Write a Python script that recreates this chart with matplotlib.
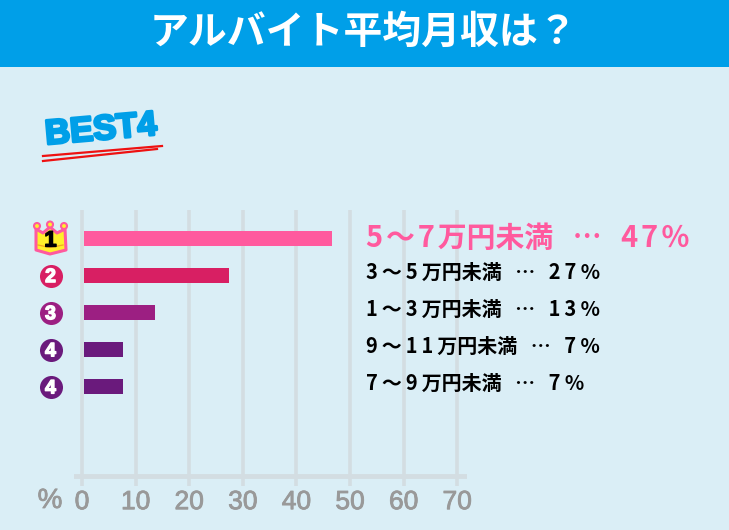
import matplotlib
matplotlib.use("Agg")
import matplotlib.pyplot as plt
import matplotlib.patheffects as pe
from matplotlib.patches import Polygon, Circle, Rectangle

plt.rcParams['font.family'] = ['Noto Sans CJK JP', 'DejaVu Sans']

# data
title = "アルバイト平均月収は？"
# hair spaces after the digits, the reference sets its numerals wide
categories = ["5\u200a～\u200a7\u200a万円未満", "3\u200a～\u200a5\u200a万円未満", "1\u200a～\u200a3\u200a万円未満",
              "9\u200a～\u200a1\u200a1\u200a万円未満", "7\u200a～\u200a9\u200a万円未満"]
percents = ["4\u200a7\u200a％", "2\u200a7\u200a％", "1\u200a3\u200a％", "7\u200a％", "7\u200a％"]
bar_values = [46.7, 27.5, 13.6, 7.7, 7.7]
ranks = ["1", "2", "3", "4", "4"]
xticks = [0, 10, 20, 30, 40, 50, 60, 70]
bar_colors = ["#ff5a9e", "#d81f63", "#9c1f82", "#6a1a7c", "#6a1a7c"]

W, H = 729, 530
BG = "#daeef6"
BLUE = "#009fe8"
GRID = "#d3dde2"
GRAY = "#999999"
LATIN = ["Liberation Sans", "DejaVu Sans"]

fig = plt.figure(figsize=(W / 100, H / 100), dpi=100, facecolor=BG)

# chart axes, placed in pixels
left, right, top, bottom = 74, 467, 210, 486
ax = fig.add_axes([left / W, 1 - bottom / H, (right - left) / W, (bottom - top) / H])
ax.set_facecolor("none")
px_per_unit = 5.36
ax.set_xlim(-8 / px_per_unit, (right - 82) / px_per_unit)
row = 37.1
ax.set_ylim((bottom - 238.5) / row, (top - 238.5) / row)
for s in ax.spines.values():
    s.set_visible(False)
ax.set_yticks([])
ax.set_xticks(xticks)
ax.grid(axis="x", color=GRID, lw=2.6)
ax.set_axisbelow(True)
ax.tick_params(axis="x", length=0, pad=3, labelcolor=GRAY)
for lab in ax.get_xticklabels():
    lab.set_fontfamily(LATIN)
    lab.set_fontsize(19)
    lab.set_path_effects([pe.withStroke(linewidth=0.6, foreground=GRAY)])
ax.axhline((476 - 238.5) / row, color=GRID, lw=3.5, zorder=1)

# bars start just right of the zero line
offset = 0.4
ypos = list(range(len(bar_values)))
ax.barh(ypos, [v - offset for v in bar_values], left=offset, height=15 / row,
        color=bar_colors, zorder=3)

# labels
label_x = (366 - 82) / px_per_unit
for i, (c, p) in enumerate(zip(categories, percents)):
    if i == 0:
        ax.text(label_x, i, f"{c}   …   {p}", color="#ff5a9e", fontsize=20.8, fontweight="bold",
                va="center", ha="left", zorder=4)
    else:
        # thin spaces here, the small rows need a bit more room
        txt = f"{c}   …   {p}".replace("\u200a", "\u2009")
        ax.text(label_x, i - 0.1, txt, color="black", fontsize=14.4, fontweight="bold",
                va="center", ha="left", zorder=4)

# rank badges (2-4 are circles, 1 is the crown below)
badge_x = (50.5 - 82) / px_per_unit
for i in ypos[1:]:
    ax.scatter(badge_x, i, s=275, color=bar_colors[i], zorder=4, clip_on=False, linewidths=0)
    ax.text(badge_x, i, ranks[i], color="white", fontsize=14, fontweight="bold",
            family=LATIN, ha="center", va="center_baseline", zorder=5,
            path_effects=[pe.withStroke(linewidth=1.0, foreground="white")])

# overlay in pixel coordinates for header and decorations
ov = fig.add_axes([0, 0, 1, 1], facecolor="none")
ov.set_xlim(0, W)
ov.set_ylim(H, 0)
ov.axis("off")
ov.add_patch(Rectangle((0, 0), W, 67, color=BLUE, lw=0))
ov.text(363, 32, title, color="white", fontsize=28, fontweight="bold", ha="center", va="center")

# BEST4 logo
ov.text(101, 130, "BEST4", color=BLUE, fontsize=25, fontweight="bold", rotation=5,
        family=LATIN, ha="center", va="center",
        path_effects=[pe.withStroke(linewidth=2, foreground=BLUE)])
ov.plot([43, 162], [156, 146], color="#ee1111", lw=1.6)
ov.plot([43, 157], [161, 149], color="#ee1111", lw=1.6)

# crown
crown = [(36, 229), (43, 233), (50, 227), (57, 233), (65, 229), (66, 250), (50, 254), (36, 250)]
ov.add_patch(Polygon(crown, closed=True, facecolor="#fff02a", edgecolor="#ff5a9e", lw=2.2, joinstyle="round"))
for cx, cy in [(37, 226), (50, 224.5), (64, 226)]:
    ov.add_patch(Circle((cx, cy), 3, facecolor="#fff02a", edgecolor="#ff5a9e", lw=1.5))
ov.plot([38, 50, 63], [245, 247.5, 245], color="#f5a623", lw=0.9)
ov.text(50.5, 241, ranks[0], color="black", fontsize=16, fontweight="bold",
        family=LATIN, ha="center", va="center",
        path_effects=[pe.withStroke(linewidth=1.0, foreground="black")])

# percent sign
ov.text(50, 501, "%", color=GRAY, fontsize=20, ha="center", va="center", family=LATIN,
        path_effects=[pe.withStroke(linewidth=0.6, foreground=GRAY)])

fig.savefig("out.png", dpi=100, facecolor=BG)
